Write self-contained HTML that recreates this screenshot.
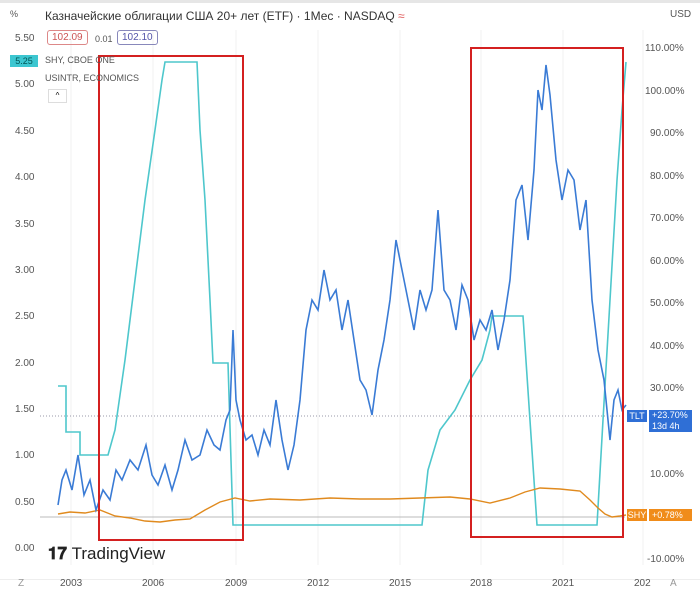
<!DOCTYPE html><html><head><meta charset="utf-8"><style>
body{margin:0;width:700px;height:597px;background:#fff;font-family:"Liberation Sans",sans-serif;overflow:hidden;position:relative}
.t{position:absolute;font-size:10px;color:#555}
</style></head><body>
<div style="position:absolute;left:0;top:0;width:700px;height:3px;background:#e6e6e6"></div>
<div style="position:absolute;left:0;top:579px;width:700px;height:18px;background:#fff;border-top:1px solid #eee"></div>
<svg width="700" height="597" style="position:absolute;left:0;top:0">
<g stroke="#f0f0f0" stroke-width="1">
<line x1="71" y1="30" x2="71" y2="565"/><line x1="153" y1="30" x2="153" y2="565"/><line x1="236" y1="30" x2="236" y2="565"/><line x1="318" y1="30" x2="318" y2="565"/><line x1="400" y1="30" x2="400" y2="565"/><line x1="481" y1="30" x2="481" y2="565"/><line x1="563" y1="30" x2="563" y2="565"/><line x1="643" y1="30" x2="643" y2="565"/>
</g>
<line x1="40" y1="416" x2="625" y2="416" stroke="#99a" stroke-dasharray="1,2"/>
<line x1="40" y1="517" x2="625" y2="517" stroke="#bbb"/>
<polyline fill="none" stroke="#4ec7cc" stroke-width="1.6" points="58,386 66,386 66,432 80,432 80,455 108,455 115,430 125,360 135,280 145,200 155,130 162,80 165,62 197,62 200,130 205,200 210,300 213,363 228,363 233,525 422,525 428,470 440,430 455,410 470,380 482,360 490,330 492,316 523,316 537,525 597,525 603,420 610,300 617,180 622,110 626,62"/>
<polyline fill="none" stroke="#e08a1e" stroke-width="1.4" points="58,514 70,512 85,513 100,510 115,516 130,518 145,521 160,522 175,520 190,519 205,510 220,502 235,498 250,501 270,499 300,500 330,498 360,499 390,499 420,498 450,497 470,499 490,503 510,498 525,492 540,488 560,489 580,491 590,500 598,508 605,514 612,517 620,516 626,515"/>
<polyline fill="none" stroke="#3a7bd5" stroke-width="1.6" points="58,505 62,480 66,470 72,490 78,455 84,495 90,480 96,510 103,490 110,500 116,470 122,480 130,460 138,470 146,445 152,475 158,485 165,465 172,490 178,470 185,440 192,460 200,455 207,430 214,445 220,450 226,420 230,410 233,330 236,400 240,420 246,440 252,435 258,455 264,430 270,445 276,400 282,440 288,470 294,445 300,400 306,330 312,300 318,310 324,270 330,300 336,290 342,330 348,300 354,340 360,380 366,390 372,415 378,370 384,340 390,300 396,240 400,260 404,280 408,300 414,330 420,290 426,310 432,290 438,210 444,290 450,300 456,330 462,285 468,300 474,340 480,320 486,330 492,310 498,350 504,320 510,280 516,200 522,185 528,240 534,170 538,90 542,110 546,65 550,95 556,160 562,200 568,170 574,180 580,230 586,200 592,300 598,350 604,380 610,440 614,400 618,390 622,410 626,405"/>
<rect x="99" y="56" width="144" height="484" fill="none" stroke="#d42020" stroke-width="2"/>
<rect x="471" y="48" width="152" height="489" fill="none" stroke="#d42020" stroke-width="2"/>
</svg>
<div class="t" style="left:10px;top:9px;font-size:9px">%</div>
<div class="t" style="left:45px;top:9px;font-size:12px;color:#333">Казначейские облигации США 20+ лет (ETF) · 1Мес · NASDAQ <span style="color:#e05a5a">≈</span></div>
<div class="t" style="left:670px;top:9px">USD</div>
<div style="position:absolute;left:47px;top:30px;border:1px solid #d88;border-radius:3px;padding:1px 4px;font-size:10px;color:#c55">102.09</div>
<div class="t" style="left:95px;top:34px;font-size:9px">0.01</div>
<div style="position:absolute;left:117px;top:30px;border:1px solid #88b;border-radius:3px;padding:1px 4px;font-size:10px;color:#55a">102.10</div>
<div class="t" style="left:45px;top:55px;font-size:9px">SHY, CBOE ONE</div>
<div class="t" style="left:45px;top:73px;font-size:9px">USINTR, ECONOMICS</div>
<div style="position:absolute;left:48px;top:89px;width:17px;height:12px;border:1px solid #ddd;font-size:8px;text-align:center;line-height:12px">^</div>
<div style="position:absolute;left:10px;top:55px;width:28px;height:12px;background:#3cc6d0;font-size:9px;color:#055;text-align:center;line-height:12px">5.25</div>
<div class="t" style="left:15px;top:33px">5.50</div>
<div class="t" style="left:15px;top:79px">5.00</div>
<div class="t" style="left:15px;top:126px">4.50</div>
<div class="t" style="left:15px;top:172px">4.00</div>
<div class="t" style="left:15px;top:219px">3.50</div>
<div class="t" style="left:15px;top:265px">3.00</div>
<div class="t" style="left:15px;top:311px">2.50</div>
<div class="t" style="left:15px;top:358px">2.00</div>
<div class="t" style="left:15px;top:404px">1.50</div>
<div class="t" style="left:15px;top:450px">1.00</div>
<div class="t" style="left:15px;top:497px">0.50</div>
<div class="t" style="left:15px;top:543px">0.00</div>
<div class="t" style="left:645px;top:43px">110.00%</div>
<div class="t" style="left:645px;top:86px">100.00%</div>
<div class="t" style="left:650px;top:128px">90.00%</div>
<div class="t" style="left:650px;top:171px">80.00%</div>
<div class="t" style="left:650px;top:213px">70.00%</div>
<div class="t" style="left:650px;top:256px">60.00%</div>
<div class="t" style="left:650px;top:298px">50.00%</div>
<div class="t" style="left:650px;top:341px">40.00%</div>
<div class="t" style="left:650px;top:383px">30.00%</div>
<div class="t" style="left:650px;top:469px">10.00%</div>
<div class="t" style="left:647px;top:554px">-10.00%</div>
<div style="position:absolute;left:627px;top:410px;width:20px;height:12px;background:#2f6fd6;color:#fff;font-size:9px;text-align:center;line-height:12px">TLT</div>
<div style="position:absolute;left:649px;top:410px;width:40px;height:22px;background:#2f6fd6;color:#fff;font-size:9px;line-height:11px;padding-left:3px">+23.70%<br>13d 4h</div>
<div style="position:absolute;left:627px;top:509px;width:20px;height:12px;background:#f08c1a;color:#fff;font-size:9px;text-align:center;line-height:12px">SHY</div>
<div style="position:absolute;left:649px;top:509px;width:40px;height:12px;background:#f08c1a;color:#fff;font-size:9px;line-height:12px;padding-left:3px">+0.78%</div>
<div style="position:absolute;left:48px;top:544px;font-size:17px;font-weight:bold;color:#222">𝟏𝟕 <span style="font-weight:normal">TradingView</span></div>
<div class="t" style="left:18px;top:578px;color:#999">Z</div>
<div class="t" style="left:60px;top:578px">2003</div>
<div class="t" style="left:142px;top:578px">2006</div>
<div class="t" style="left:225px;top:578px">2009</div>
<div class="t" style="left:307px;top:578px">2012</div>
<div class="t" style="left:389px;top:578px">2015</div>
<div class="t" style="left:470px;top:578px">2018</div>
<div class="t" style="left:552px;top:578px">2021</div>
<div class="t" style="left:634px;top:578px">202</div>
<div class="t" style="left:670px;top:578px;color:#999">A</div>
</body></html>
